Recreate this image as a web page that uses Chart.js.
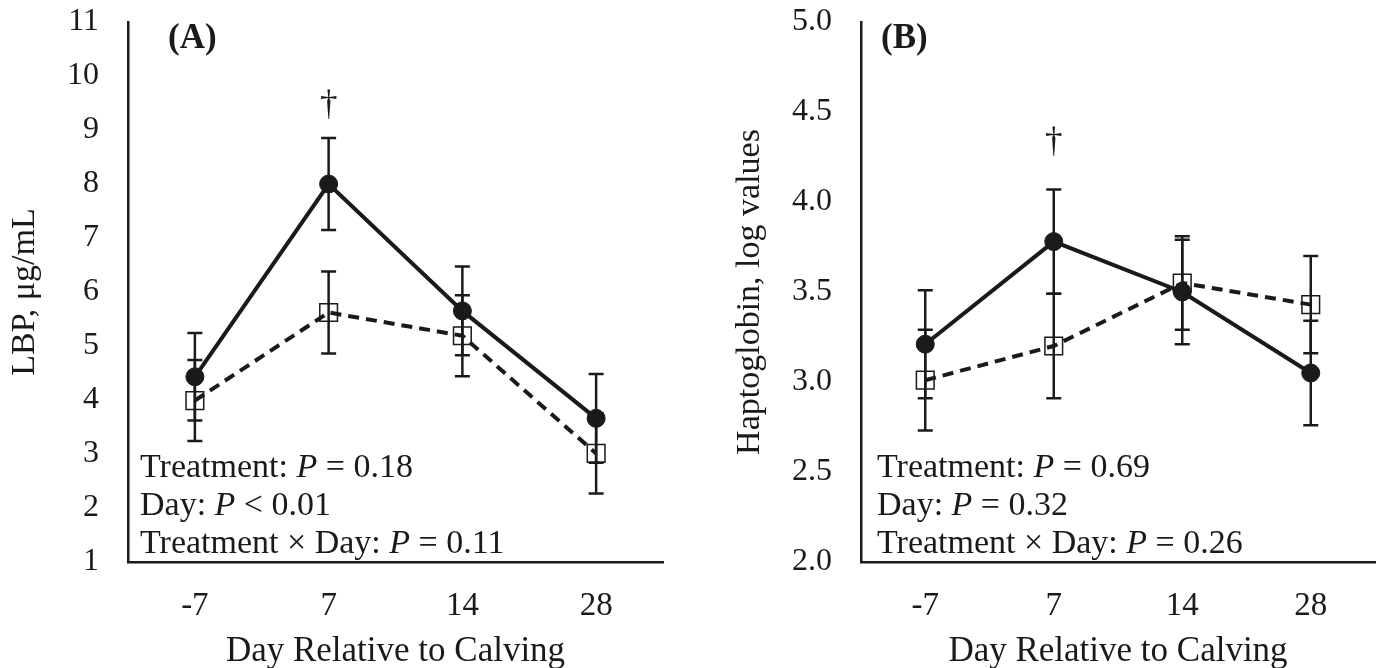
<!DOCTYPE html>
<html>
<head>
<meta charset="utf-8">
<script src="https://cdn.jsdelivr.net/npm/chart.js@4/dist/chart.umd.min.js"></script>
<style>
  html, body { margin: 0; padding: 0; background: #ffffff; }
  #wrapA { position: absolute; left: 0; top: 0; width: 700px; height: 668px; }
  #wrapB { position: absolute; left: 700px; top: 0; width: 689px; height: 668px; }
</style>
</head>
<body>
<div id="wrapA"><canvas id="chartA" width="700" height="668"></canvas></div>
<div id="wrapB"><canvas id="chartB" width="689" height="668"></canvas></div>
<script>
// ---- data ----
const days = ['-7', '7', '14', '28'];

const lbpFilled   = [4.43, 8.00, 5.65, 3.66];
const lbpFilledSE = [0.81, 0.85, 0.82, 0.82];
const lbpOpen     = [3.99, 5.62, 5.19, 3.01];
const lbpOpenSE   = [0.75, 0.76, 0.75, 0.74];

const hpFilled    = [3.21, 3.78, 3.50, 3.05];
const hpFilledSE  = [0.30, 0.29, 0.29, 0.29];
const hpOpen      = [3.01, 3.20, 3.55, 3.43];
const hpOpenSE    = [0.28, 0.29, 0.26, 0.27];

const lbpTicks = [1, 11, 1];      // min, max, step
const hpTicks  = [2.0, 5.0, 0.5];

const statsA = [
  [['Treatment: ', false], ['P', true], [' = 0.18', false]],
  [['Day: ', false], ['P', true], [' < 0.01', false]],
  [['Treatment \u00d7 Day: ', false], ['P', true], [' = 0.11', false]]
];
const statsB = [
  [['Treatment: ', false], ['P', true], [' = 0.69', false]],
  [['Day: ', false], ['P', true], [' = 0.32', false]],
  [['Treatment \u00d7 Day: ', false], ['P', true], [' = 0.26', false]]
];

// ---- style ----
const INK = '#1a1a1a';
const FAMILY = "'Liberation Serif', 'Times New Roman', serif";
Chart.defaults.font.family = FAMILY;
Chart.defaults.color = INK;

// error bars + annotations plugin
const extrasPlugin = {
  id: 'extras',
  afterDatasetsDraw(chart, args, opts) {
    const ctx = chart.ctx;
    const xs = chart.scales.x, ys = chart.scales.y;
    ctx.save();
    ctx.strokeStyle = INK;
    ctx.lineWidth = 2.5;
    (opts.errors || []).forEach(err => {
      err.values.forEach((v, i) => {
        const x = xs.getPixelForValue(i);
        const yTop = ys.getPixelForValue(v + err.se[i]);
        const yBot = ys.getPixelForValue(v - err.se[i]);
        ctx.beginPath();
        ctx.moveTo(x, yTop); ctx.lineTo(x, yBot);
        ctx.moveTo(x - 7.5, yTop); ctx.lineTo(x + 7.5, yTop);
        ctx.moveTo(x - 7.5, yBot); ctx.lineTo(x + 7.5, yBot);
        ctx.stroke();
      });
    });
    ctx.restore();
  },
  afterDraw(chart, args, opts) {
    const ctx = chart.ctx;
    const area = chart.chartArea;
    const xs = chart.scales.x, ys = chart.scales.y;
    ctx.save();
    ctx.fillStyle = INK;
    // panel letter
    ctx.font = 'bold 35px ' + FAMILY;
    ctx.textBaseline = 'middle';
    ctx.textAlign = 'left';
    ctx.fillText(opts.letter, area.left + opts.letterDx, area.top + 17);
    // dagger
    ctx.font = '35px ' + FAMILY;
    ctx.textAlign = 'center';
    ctx.fillText('\u2020', xs.getPixelForValue(opts.daggerIndex), ys.getPixelForValue(opts.daggerValue));
    // stats
    ctx.textAlign = 'left';
    ctx.textBaseline = 'alphabetic';
    opts.stats.forEach((line, li) => {
      let x = area.left + opts.statsDx;
      const y = area.bottom - 85 + li * 38;
      line.forEach(([txt, it]) => {
        ctx.font = (it ? 'italic ' : '') + '34px ' + FAMILY;
        ctx.fillText(txt, x, y);
        x += ctx.measureText(txt).width;
      });
    });
    ctx.restore();
  }
};

function makeChart(id, cfg) {
  return new Chart(document.getElementById(id), {
    type: 'line',
    data: {
      labels: days,
      datasets: [
        {
          data: cfg.filled,
          borderColor: INK,
          backgroundColor: INK,
          borderWidth: 4,
          pointStyle: 'circle',
          pointRadius: 9,
          pointBackgroundColor: INK,
          pointBorderColor: INK,
          pointBorderWidth: 1,
          tension: 0
        },
        {
          data: cfg.open,
          borderColor: INK,
          backgroundColor: 'rgba(0,0,0,0)',
          borderWidth: 4,
          borderDash: [11, 7],
          pointStyle: 'rect',
          pointRadius: 12.5,
          pointBackgroundColor: 'rgba(0,0,0,0)',
          pointBorderColor: INK,
          pointBorderWidth: 1.5,
          tension: 0
        }
      ]
    },
    options: {
      responsive: false,
      animation: false,
      devicePixelRatio: 1,
      layout: { padding: { left: 0, top: 22, right: cfg.padRight, bottom: 0 } },
      plugins: {
        legend: { display: false },
        tooltip: { enabled: false },
        extras: {
          errors: [
            { values: cfg.filled, se: cfg.filledSE },
            { values: cfg.open, se: cfg.openSE }
          ],
          letter: cfg.letter,
          letterDx: cfg.letterDx,
          daggerIndex: 1,
          daggerValue: cfg.daggerValue,
          stats: cfg.stats,
          statsDx: cfg.statsDx
        }
      },
      scales: {
        x: {
          type: 'category',
          offset: true,
          grid: { display: false, drawTicks: false },
          border: { display: true, color: INK, width: 2.5 },
          ticks: { font: { size: 33 }, padding: 25, color: INK, maxRotation: 0 },
          title: {
            display: true,
            text: 'Day Relative to Calving',
            font: { size: 35, lineHeight: 1 },
            padding: { top: 0, bottom: -1 },
            color: INK
          },
          afterFit(scale) { scale.height = 106; }
        },
        y: {
          min: cfg.ticks[0],
          max: cfg.ticks[1],
          grid: { display: false, drawTicks: false },
          border: { display: true, color: INK, width: 2.5 },
          ticks: {
            stepSize: cfg.ticks[2],
            font: { size: 32 },
            padding: 29,
            color: INK,
            callback: cfg.fmt
          },
          title: {
            display: true,
            text: cfg.yTitle,
            font: { size: 34, lineHeight: 1 },
            padding: { top: cfg.yTitlePad, bottom: 0 },
            color: INK
          },
          afterFit(scale) {
            scale.width = cfg.yWidth;
            scale.paddingTop = 0;
            scale.paddingBottom = 0;
          }
        }
      }
    },
    plugins: [extrasPlugin]
  });
}

makeChart('chartA', {
  filled: lbpFilled, filledSE: lbpFilledSE, open: lbpOpen, openSE: lbpOpenSE,
  ticks: lbpTicks, fmt: v => String(v),
  yTitle: 'LBP, \u03bcg/mL', yTitlePad: 8, yWidth: 128, padRight: 37,
  letter: '(A)', letterDx: 40, daggerValue: 9.44, stats: statsA, statsDx: 12
});

makeChart('chartB', {
  filled: hpFilled, filledSE: hpFilledSE, open: hpOpen, openSE: hpOpenSE,
  ticks: hpTicks, fmt: v => Number(v).toFixed(1),
  yTitle: 'Haptoglobin, log values', yTitlePad: 33, yWidth: 161, padRight: 1,
  letter: '(B)', letterDx: 20, daggerValue: 4.33, stats: statsB, statsDx: 16
});
</script>
</body>
</html>
